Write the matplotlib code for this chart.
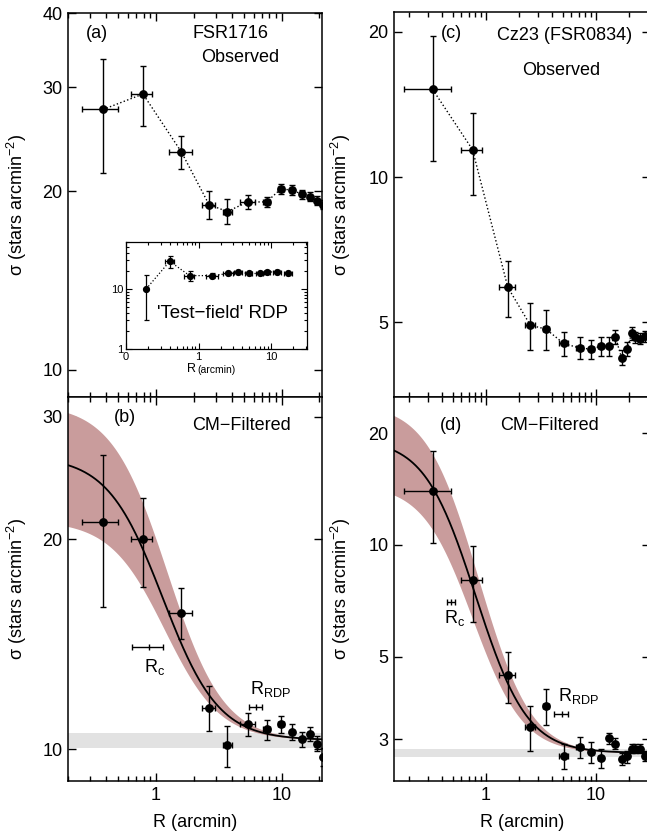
import numpy as np
import matplotlib
matplotlib.use('Agg')
import matplotlib.pyplot as plt
from matplotlib.ticker import FixedLocator, FixedFormatter, NullLocator, LogLocator, NullFormatter

plt.rcParams['font.family'] = ['Liberation Sans', 'DejaVu Sans']
plt.rcParams['mathtext.fontset'] = 'custom'
plt.rcParams['mathtext.rm'] = 'Liberation Sans'
plt.rcParams['mathtext.it'] = 'Liberation Sans:italic'
plt.rcParams['mathtext.default'] = 'rm'
plt.rcParams['font.size'] = 13

# FSR1716 observed (a)
R_fsr = [0.38, 0.79, 1.6, 2.65, 3.7, 5.4, 7.6, 9.9, 12.1, 14.5, 16.7, 19.0, 21.3]
Rerr_fsr = [0.12, 0.15, 0.33, 0.31, 0.3, 0.7, 0.5, 0.5, 0.5, 0.5, 0.5, 0.5, 0.5]
sig_a = [27.5, 29.2, 23.3, 19.0, 18.5, 19.2, 19.2, 20.2, 20.1, 19.8, 19.6, 19.3, 19.0]
err_a = [6.0, 3.4, 1.5, 1.05, 0.9, 0.55, 0.4, 0.37, 0.37, 0.35, 0.35, 0.35, 0.35]

# FSR1716 test-field RDP (inset)
R_test = [0.19, 0.40, 0.75, 1.55, 2.57, 3.5, 4.9, 6.9, 8.8, 12.0, 17.0]
Rerr_test = [0.0, 0.06, 0.12, 0.3, 0.4, 0.4, 0.6, 0.7, 0.8, 1.5, 2.0]
sig_test = [10.0, 28.7, 16.6, 16.6, 18.0, 18.8, 18.0, 18.0, 19.0, 19.2, 18.0]
err_test = [7.0, 6.5, 3.0, 1.5, 1.2, 1.2, 1.0, 1.0, 1.0, 1.0, 1.0]

# FSR1716 CM-filtered (b)
sig_b = [21.2, 20.0, 15.7, 11.45, 10.12, 10.86, 10.67, 10.86, 10.57, 10.33, 10.52, 10.18, 9.75]
err_b = [5.2, 2.9, 1.3, 0.85, 0.68, 0.42, 0.35, 0.3, 0.28, 0.26, 0.25, 0.25, 0.3]
bg_b, dbg_b = 10.3, 0.25
s0_b, rc_b = 16.0, 0.9
s0_b_hi, rc_b_hi = 21.0, 0.93
s0_b_lo, rc_b_lo = 11.0, 0.98
rc_mark_b = (0.89, 0.24, 14.0)
rdp_mark_b = (6.3, 0.75, 11.5)

# Cz23 observed (c)
R_cz = [0.33, 0.76, 1.59, 2.55, 3.53, 5.12, 7.16, 9.12, 11.1, 13.1, 15.1, 17.2, 19.4, 21.2, 22.7, 25.3, 28.2]
Rerr_cz = [0.15, 0.16, 0.27, 0.27, 0.2, 0.45, 0.5, 0.5, 0.5, 0.5, 0.5, 0.5, 0.5, 0.5, 0.5, 0.5, 0.5]
sig_c = [15.2, 11.4, 5.91, 4.93, 4.84, 4.52, 4.42, 4.40, 4.46, 4.46, 4.66, 4.22, 4.41, 4.74, 4.66, 4.62, 4.68]
err_c = [4.4, 2.2, 0.78, 0.56, 0.47, 0.26, 0.23, 0.2, 0.2, 0.2, 0.15, 0.15, 0.15, 0.15, 0.12, 0.12, 0.12]

# Cz23 CM-filtered (d)
sig_d = [14.0, 8.07, 4.46, 3.25, 3.69, 2.71, 2.86, 2.78, 2.67, 3.02, 2.92, 2.66, 2.70, 2.83, 2.83, 2.83, 2.71]
err_d = [3.9, 1.85, 0.7, 0.45, 0.4, 0.21, 0.18, 0.18, 0.15, 0.11, 0.1, 0.1, 0.1, 0.08, 0.08, 0.08, 0.08]
bg_d, dbg_d = 2.76, 0.07
s0_d, rc_d = 16.5, 0.5
s0_d_hi, rc_d_hi = 21.2, 0.5
s0_d_lo, rc_d_lo = 11.8, 0.5
rc_mark_d = (0.485, 0.04, 7.03)
rdp_mark_d = (4.9, 0.72, 3.51)

band_col = '#c99c9c'
grey_col = '#e2e2e2'
ylab = r'σ (stars arcmin$^{-2}$)'


def king(r, bg, s0, rc):
    return bg + s0 / (1.0 + (r / rc) ** 2)


def style(ax, xlim, ylim, yticks, xlabels, labx):
    ax.set_xscale('log')
    ax.set_yscale('log')
    ax.set_xlim(*xlim)
    ax.set_ylim(*ylim)
    ax.yaxis.set_major_locator(FixedLocator(yticks))
    ax.yaxis.set_major_formatter(FixedFormatter([str(t) for t in yticks]))
    ax.yaxis.set_minor_locator(NullLocator())
    ax.xaxis.set_major_locator(FixedLocator([1, 10]))
    ax.xaxis.set_minor_locator(LogLocator(subs=np.arange(2, 10)))
    ax.xaxis.set_minor_formatter(NullFormatter())
    ax.tick_params(which='both', direction='in', top=True, right=True, labelsize=13, pad=4)
    ax.tick_params(which='major', length=6, width=1)
    ax.tick_params(which='minor', length=3.5, width=1)
    if xlabels:
        ax.xaxis.set_major_formatter(FixedFormatter(['1', '10']))
        ax.set_xlabel('R (arcmin)', fontsize=13)
        ax.xaxis.set_label_coords(0.5, -0.085)
    else:
        ax.tick_params(labelbottom=False)
    for s in ax.spines.values():
        s.set_linewidth(1.1)
    ax.set_ylabel(ylab, fontsize=13)
    ax.yaxis.set_label_coords(labx, 0.5)


def points(ax, R, Rerr, s, serr, dotted):
    if dotted:
        ax.plot(R, s, color='k', ls=':', lw=1, zorder=3)
    ax.errorbar(R, s, yerr=serr, xerr=Rerr, fmt='o', color='k', ms=5.3,
                elinewidth=1, capsize=2.5, capthick=1, zorder=4)


def fit(ax, bg, dbg, s0, rc, s0hi, rchi, s0lo, rclo):
    r = np.logspace(-1, 1.6, 400)
    ax.axhspan(bg - dbg, bg + dbg, color=grey_col, lw=0, zorder=1)
    ax.fill_between(r, king(r, bg, s0lo, rclo), king(r, bg, s0hi, rchi),
                    color=band_col, lw=0, zorder=2)
    ax.plot(r, king(r, bg, s0, rc), color='k', lw=1.3, zorder=3)


def marker(ax, m):
    ax.errorbar([m[0]], [m[2]], xerr=[m[1]], fmt='|', color='k', ms=5, mew=1,
                elinewidth=1, capsize=2.5, capthick=1, zorder=4)


fig = plt.figure(figsize=(6.47, 8.34), dpi=100)
ax_a = fig.add_axes([0.1051, 0.5240, 0.3926, 0.4604])
ax_b = fig.add_axes([0.1051, 0.0636, 0.3926, 0.4604])
ax_c = fig.add_axes([0.6090, 0.5240, 0.3957, 0.4616])
ax_d = fig.add_axes([0.6090, 0.0636, 0.3957, 0.4604])

# (a)
style(ax_a, (0.2, 21), (9, 40), [10, 20, 30, 40], False, -0.155)
points(ax_a, R_fsr, Rerr_fsr, sig_a, err_a, True)
ax_a.text(0.113, 0.947, '(a)', transform=ax_a.transAxes, ha='center', va='center')
ax_a.text(0.638, 0.947, 'FSR1716', transform=ax_a.transAxes, ha='center', va='center')
ax_a.text(0.677, 0.884, 'Observed', transform=ax_a.transAxes, ha='center', va='center')

# inset
ins = fig.add_axes([0.1947, 0.5815, 0.2798, 0.1283])
ins.set_xscale('log')
ins.set_yscale('log')
ins.set_xlim(0.1, 31)
ins.set_ylim(1, 60)
ins.xaxis.set_major_locator(FixedLocator([0.1, 1, 10]))
ins.xaxis.set_major_formatter(FixedFormatter(['0', '1', '10']))
ins.xaxis.set_minor_locator(LogLocator(subs=np.arange(2, 10)))
ins.xaxis.set_minor_formatter(NullFormatter())
ins.yaxis.set_major_locator(FixedLocator([1, 10]))
ins.yaxis.set_major_formatter(FixedFormatter(['1', '10']))
ins.yaxis.set_minor_locator(LogLocator(subs=np.arange(2, 10)))
ins.yaxis.set_minor_formatter(NullFormatter())
ins.tick_params(which='both', direction='in', top=True, right=True, labelsize=8, pad=2)
ins.tick_params(which='major', length=4, width=0.8)
ins.tick_params(which='minor', length=2, width=0.8)
for s in ins.spines.values():
    s.set_linewidth(0.9)
ins.plot(R_test, sig_test, color='k', ls=':', lw=0.9)
ins.errorbar(R_test, sig_test, yerr=err_test, xerr=Rerr_test, fmt='o', color='k', ms=4.2,
             elinewidth=0.9, capsize=1.8, capthick=0.9)
ins.text(0.532, 0.334, "'Test\u2212field' RDP", transform=ins.transAxes, ha='center',
         va='center', fontsize=13.5)
ins.text(0.363, -0.19, 'R', transform=ins.transAxes, ha='center', va='center', fontsize=9)
ins.text(0.392, -0.20, '(arcmin)', transform=ins.transAxes, ha='left', va='center', fontsize=7.5)

# (b)
style(ax_b, (0.2, 21), (9, 32), [10, 20, 30], True, -0.155)
fit(ax_b, bg_b, dbg_b, s0_b, rc_b, s0_b_hi, rc_b_hi, s0_b_lo, rc_b_lo)
points(ax_b, R_fsr, Rerr_fsr, sig_b, err_b, False)
marker(ax_b, rc_mark_b)
marker(ax_b, rdp_mark_b)
ax_b.text(0.224, 0.947, '(b)', transform=ax_b.transAxes, ha='center', va='center')
ax_b.text(0.684, 0.927, 'CM\u2212Filtered', transform=ax_b.transAxes, ha='center', va='center')
ax_b.text(0.299, 0.298, r'R$_{\mathregular{c}}$', transform=ax_b.transAxes, ha='left', va='center')
ax_b.text(0.717, 0.239, r'R$_{\mathregular{RDP}}$', transform=ax_b.transAxes, ha='left', va='center')

# (c)
style(ax_c, (0.147, 31.2), (3.5, 22), [5, 10, 20], False, -0.16)
points(ax_c, R_cz, Rerr_cz, sig_c, err_c, True)
ax_c.text(0.225, 0.945, '(c)', transform=ax_c.transAxes, ha='center', va='center')
ax_c.text(0.668, 0.938, 'Cz23 (FSR0834)', transform=ax_c.transAxes, ha='center', va='center')
ax_c.text(0.651, 0.847, 'Observed', transform=ax_c.transAxes, ha='center', va='center')

# (d)
style(ax_d, (0.147, 31.2), (2.32, 25), [3, 5, 10, 20], True, -0.16)
fit(ax_d, bg_d, dbg_d, s0_d, rc_d, s0_d_hi, rc_d_hi, s0_d_lo, rc_d_lo)
points(ax_d, R_cz, Rerr_cz, sig_d, err_d, False)
marker(ax_d, rc_mark_d)
marker(ax_d, rdp_mark_d)
ax_d.text(0.223, 0.927, '(d)', transform=ax_d.transAxes, ha='center', va='center')
ax_d.text(0.609, 0.927, 'CM\u2212Filtered', transform=ax_d.transAxes, ha='center', va='center')
ax_d.text(0.195, 0.424, r'R$_{\mathregular{c}}$', transform=ax_d.transAxes, ha='left', va='center')
ax_d.text(0.642, 0.22, r'R$_{\mathregular{RDP}}$', transform=ax_d.transAxes, ha='left', va='center')

fig.savefig('out.png', dpi=100)
